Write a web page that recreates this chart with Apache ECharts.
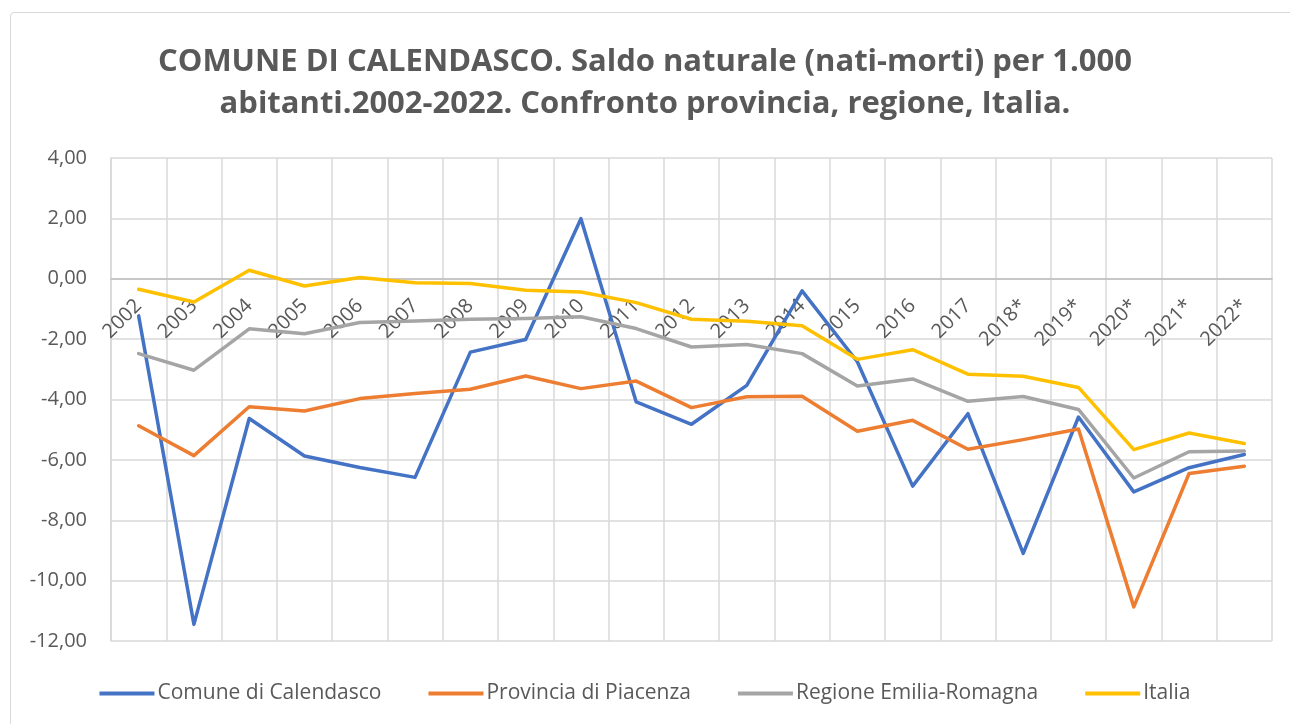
<!DOCTYPE html>
<html><head><meta charset="utf-8">
<script src="https://cdn.jsdelivr.net/npm/echarts@6/dist/echarts.min.js"></script>
<style>
html,body{margin:0;padding:0;background:#fff;}
#frame{position:absolute;left:10px;top:12px;width:1290px;height:720px;border:1px solid #d9d9d9;border-radius:4px;}
#c{position:absolute;left:0;top:0;width:1290px;height:724px;}
</style></head>
<body><div id="frame"></div><div id="c"></div>
<script>
const categories = ['2002','2003','2004','2005','2006','2007','2008','2009','2010','2011','2012','2013','2014','2015','2016','2017','2018*','2019*','2020*','2021*','2022*'];
const comune = [-1.23,-11.45,-4.63,-5.87,-6.25,-6.58,-2.43,-2.01,1.99,-4.08,-4.82,-3.53,-0.40,-2.75,-6.87,-4.47,-9.10,-4.58,-7.06,-6.26,-5.82];
const provincia = [-4.87,-5.86,-4.24,-4.38,-3.97,-3.80,-3.66,-3.22,-3.64,-3.39,-4.27,-3.91,-3.89,-5.05,-4.69,-5.65,-5.33,-4.98,-10.87,-6.45,-6.21];
const regione = [-2.48,-3.03,-1.66,-1.82,-1.45,-1.40,-1.34,-1.32,-1.26,-1.65,-2.26,-2.18,-2.48,-3.55,-3.32,-4.06,-3.90,-4.33,-6.60,-5.73,-5.71];
const italia = [-0.35,-0.77,0.28,-0.24,0.04,-0.13,-0.16,-0.38,-0.44,-0.79,-1.34,-1.41,-1.56,-2.67,-2.35,-3.16,-3.23,-3.60,-5.66,-5.11,-5.46];
const seriesNames = ['Comune di Calendasco','Provincia di Piacenza','Regione Emilia-Romagna','Italia'];
const colors = ['#4472C4','#ED7D31','#A5A5A5','#FFC000'];
const titleText = 'COMUNE DI CALENDASCO. Saldo naturale (nati-morti) per 1.000\nabitanti.2002-2022. Confronto provincia, regione, Italia.';

const FONT = 'Open Sans';
const chart = echarts.init(document.getElementById('c'), null, {renderer:'canvas'});
const mk = (name, data, i) => ({
  name, type:'line', data, symbol:'none', smooth:false,
  lineStyle:{width:3.5, color:colors[i], cap:'round', join:'round'},
  itemStyle:{color:colors[i]}
});
const xLabel = {rotate:45, interval:0, margin:24, fontSize:20, color:'#595959', fontFamily:FONT};
const yLabel = {fontSize:20, color:'#595959', margin:24, fontFamily:FONT,
  formatter:v => v.toFixed(2).replace('.', ',')};
const baseOption = (xOffset) => ({
  animation:false,
  title:{
    text:titleText, left:'center', top:36,
    textStyle:{fontFamily:FONT, fontSize:31, fontWeight:'bold', color:'#595959', lineHeight:42}
  },
  legend:{
    bottom:15, left:'center', itemWidth:55, itemHeight:4, itemGap:47,
    icon:'rect',
    textStyle:{fontFamily:FONT, fontSize:21, color:'#595959', padding:[0,0,0,-2]},
    data:seriesNames
  },
  grid:{left:111, right:18, top:158, bottom:83},
  xAxis:{
    type:'category', data:categories, boundaryGap:true, offset:xOffset,
    axisLine:{show:true, onZero:false, lineStyle:{color:'#bfbfbf', width:1.5}},
    axisTick:{show:false},
    splitLine:{show:true, lineStyle:{color:'#d9d9d9', width:1.5}},
    axisLabel:xLabel
  },
  yAxis:{
    type:'value', min:-12, max:4, interval:2,
    axisLine:{show:true, lineStyle:{color:'#d9d9d9', width:1.5}},
    axisTick:{show:false},
    splitLine:{show:true, lineStyle:{color:'#d9d9d9', width:1.5}},
    axisLabel:yLabel
  },
  series:[mk(seriesNames[0],comune,0), mk(seriesNames[1],provincia,1), mk(seriesNames[2],regione,2), mk(seriesNames[3],italia,3)]
});
chart.setOption(baseOption(0));
// place the category axis (line + labels) at value 0, as in the original
const yBottom = chart.convertToPixel({yAxisIndex:0}, -12);
const yZero = chart.convertToPixel({yAxisIndex:0}, 0);
chart.setOption(baseOption(-(yBottom - yZero)), true);
</script></body></html>
